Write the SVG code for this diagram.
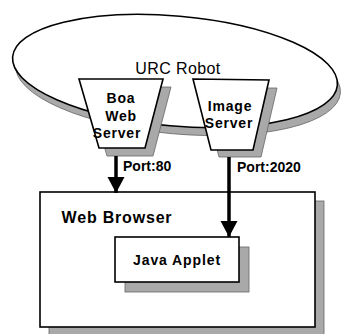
<svg xmlns="http://www.w3.org/2000/svg" width="357" height="334" viewBox="0 0 357 334">
<style>
.shadow{fill:#a9a9a9;stroke:#666;stroke-width:0.8}
.shape{fill:#fff;stroke:#000;stroke-width:1.6}
.lbl{font-family:"Liberation Sans",Arial,sans-serif;font-weight:bold;fill:#000;text-anchor:middle}
.port{font-family:"Liberation Sans",Arial,sans-serif;font-weight:bold;fill:#000;text-anchor:start;font-size:14px}
.wire{stroke:#000;stroke-width:3.5;fill:none}
</style>
<defs>
<marker id="ah" markerUnits="userSpaceOnUse" markerWidth="18" markerHeight="18" refX="16" refY="8.5" orient="auto">
<path d="M0,0 L16,8.5 L0,17 Z" fill="#000"/>
</marker>
</defs>
<rect width="357" height="334" fill="#fff"/>
<g id="robot">
<ellipse class="shadow" cx="178" cy="79" rx="163" ry="55" transform="rotate(5 178 79)"/>
<ellipse class="shape" cx="175" cy="71" rx="163" ry="55" transform="rotate(5 175 71)"/>
<text x="178" y="74" font-family="'Liberation Sans',Arial,sans-serif" font-size="16" letter-spacing="0.4" text-anchor="middle">URC Robot</text>
</g>
<g id="boa">
<polygon class="shadow" points="87,87 171,87 153,156 107,156"/>
<polygon class="shape" points="79,79 163,79 145,148 99,148"/>
<text class="lbl" font-size="14" letter-spacing="0.8"><tspan x="121" y="103">Boa</tspan><tspan x="121" y="121">Web</tspan><tspan x="117" y="138">Server</tspan></text>
</g>
<g id="image">
<polygon class="shadow" points="201,88 277,88 261,157 219,157"/>
<polygon class="shape" points="193,79 269,80 253,150 211,150"/>
<text class="lbl" font-size="14" letter-spacing="0.8"><tspan x="230" y="111">Image</tspan><tspan x="229" y="128">Server</tspan></text>
</g>
<g id="browser">
<rect class="shadow" x="49" y="201" width="275" height="140"/>
<rect class="shape" x="40" y="192" width="275" height="135"/>
<text class="lbl" x="117" y="223" font-size="16" letter-spacing="0.8">Web Browser</text>
</g>
<g id="applet">
<rect class="shadow" x="125" y="247" width="124" height="45"/>
<rect class="shape" x="115" y="237" width="124" height="45"/>
<text class="lbl" x="177" y="265" font-size="14" letter-spacing="0.9">Java Applet</text>
</g>
<g id="connectors">
<line class="wire" x1="116" y1="156" x2="116" y2="193" marker-end="url(#ah)"/>
<line class="wire" x1="229" y1="157" x2="229" y2="237" marker-end="url(#ah)"/>
<text class="port" x="123" y="171">Port:80</text>
<text class="port" x="237" y="172">Port:2020</text>
</g>
</svg>
